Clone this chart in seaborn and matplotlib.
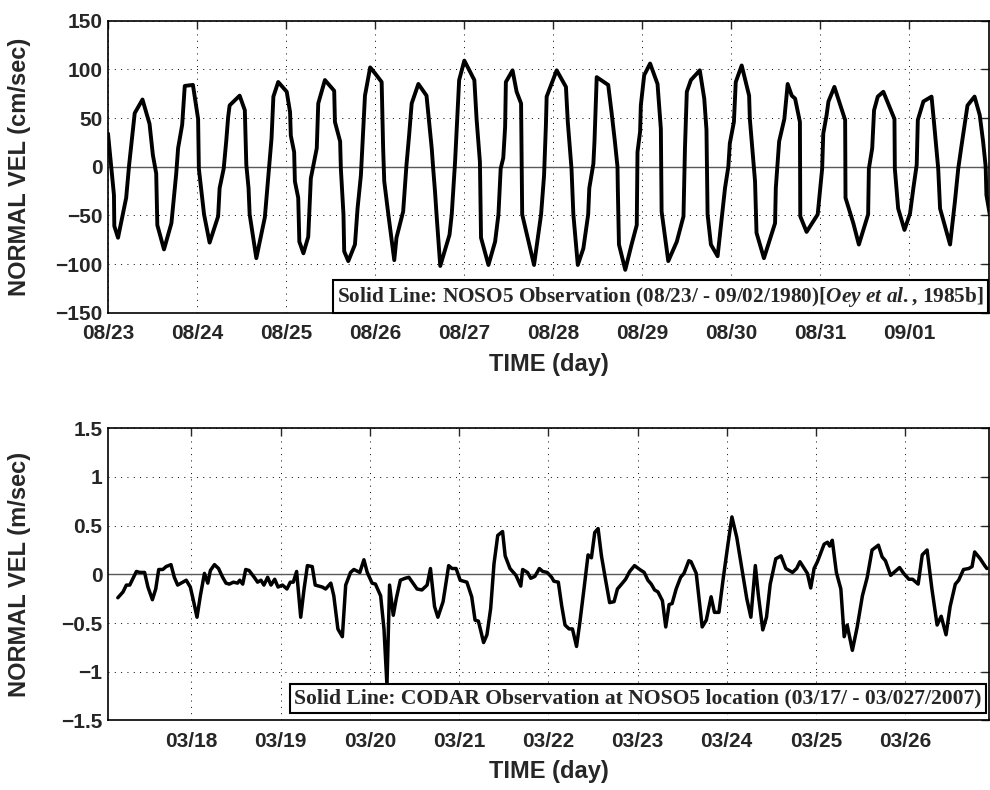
import numpy as np
import pandas as pd
import matplotlib
matplotlib.use("Agg")
import matplotlib.pyplot as plt
import seaborn as sns

# ---- NOSO5 current meter record, 1980 (hours after 08/23 00:00, cm/sec) ----
top_hours = [0.0, 1.6, 1.7, 2.7, 4.9, 5.7, 7.2, 9.3, 11.2, 12.1, 13.0, 13.3, 15.1, 17.1,
             18.4, 18.9, 20.0, 20.7, 22.9, 24.3, 24.5, 25.9, 27.4, 29.7, 30.1, 31.2, 31.9,
             32.4, 32.8, 35.5, 36.9, 37.3, 37.9, 38.2, 40.0, 41.2, 42.3, 43.4, 44.1, 44.6,
             45.9, 48.2, 49.1, 49.3, 50.2, 50.4, 51.3, 51.6, 52.7, 54.0, 54.7, 56.3, 56.7,
             58.5, 61.0, 61.2, 62.6, 62.8, 63.5, 63.7, 64.8, 66.6, 67.3, 68.2, 68.9, 69.3,
             70.7, 72.0, 73.8, 74.2, 74.5, 75.6, 77.2, 77.8, 79.6, 80.5, 81.2, 81.9, 83.7,
             85.9, 86.6, 87.3, 87.7, 88.2, 88.6, 89.6, 92.1, 92.7, 93.6, 94.7, 96.1, 98.8,
             99.4, 100.3, 100.6, 102.6, 104.4, 105.3, 105.9, 106.6, 107.1, 107.3, 109.1,
             110.2, 111.4, 111.7, 114.9, 116.8, 117.6, 118.1, 118.3, 121.0, 123.5, 124.0,
             125.0, 125.5, 126.7, 128.2, 129.5, 129.8, 130.9, 131.2, 131.8, 134.9, 135.8,
             136.7, 137.4, 137.5, 137.8, 139.5, 141.2, 142.6, 142.8, 143.5, 143.7, 144.6,
             146.2, 148.2, 149.1, 149.3, 151.1, 153.4, 155.2, 155.6, 156.1, 157.2, 159.6,
             160.8, 161.4, 161.7, 162.6, 164.4, 166.4, 167.3, 167.7, 168.8, 169.3, 170.9,
             172.9, 173.1, 174.5, 174.9, 176.9, 179.9, 180.1, 181.0, 182.4, 183.3, 184.4,
             185.3, 186.6, 186.7, 188.4, 191.4, 192.6, 192.9, 193.8, 194.3, 195.9, 198.8,
             198.9, 201.0, 202.5, 205.0, 205.2, 206.1, 206.6, 207.6, 209.1, 212.1, 212.2,
             213.1, 214.8, 216.3, 217.2, 218.1, 218.4, 219.9, 222.1, 222.8, 223.9, 224.4,
             227.1, 228.4, 229.3, 230.2, 231.8, 233.7, 235.1, 236.0, 236.7, 236.9, 237.8]
top_vel = [34, -29, -61, -73, -32, 2, 55, 69, 44, 12, -7, -60, -85, -58,
           -7, 19, 43, 83, 84, 49, -2, -49, -78, -51, -22, -2, 27,
           51, 63, 73, 58, 2, -22, -49, -94, -72, -52, -2, 29, 72,
           87, 77, 56, 32, 15, -15, -32, -77, -89, -72, -12, 19, 65,
           89, 78, 46, 26, -2, -49, -87, -97, -80, -43, -9, 43, 73,
           102, 96, 87, 19, -15, -49, -96, -73, -46, 2, 32, 65, 85,
           73, 46, 19, -2, -26, -49, -102, -70, -49, 5, 89, 109, 89,
           49, 5, -73, -101, -77, -49, -2, 9, 41, 87, 99,
           77, 65, -49, -101, -49, -9, 43, 72, 99, 82, 46,
           -2, -49, -101, -84, -49, -22, 3, 26, 92, 84, 56,
           26, 0, -24, -80, -106, -80, -60, 15, 36, 63, 94,
           106, 85, 39, -46, -97, -77, -51, 19, 77, 89, 99,
           70, 38, -49, -80, -92, -22, 0, 24, 46, 87, 104,
           73, 49, -15, -68, -94, -58, -22, 26, 49, 85, 73,
           70, 46, -51, -67, -49, -2, 34, 53, 67, 82, 48,
           -32, -58, -80, -49, -2, 19, 58, 72, 77, 49, -2,
           -43, -65, -48, -22, 2, 48, 67, 72, 44, -2, -43,
           -80, -36, -2, 22, 63, 72, 53, 26, 0, -29, -49]

# ---- CODAR record at NOSO5, 2007 (hours after 03/17 00:00, m/sec) ----
bot_hours = [4.2, 5.6, 6.5, 7.4, 9.2, 10.1, 11.4, 12.3, 13.5, 14.4, 15.2, 16.3, 17.2, 18.5,
             19.4, 20.3, 21.7, 22.6, 23.7, 24.6, 25.5, 26.4, 27.5, 28.4, 29.1, 30.2, 31.3,
             32.4, 33.3, 34.2, 35.3, 36.4, 37.0, 37.8, 38.6, 39.5, 40.9, 41.8, 42.7, 43.5,
             44.5, 45.4, 46.4, 47.3, 48.5, 49.7, 50.6, 51.4, 52.3, 53.4, 54.3, 55.2, 56.5,
             57.3, 59.2, 60.1, 61.5, 62.3, 63.4, 64.6, 65.5, 66.8, 67.7, 69.3, 70.4, 71.3,
             72.6, 73.5, 74.9, 75.8, 76.6, 77.3, 78.3, 79.1, 80.2, 81.5, 82.5, 83.8, 84.7,
             86.0, 87.4, 88.3, 89.4, 90.3, 91.7, 93.2, 94.1, 95.2, 96.3, 98.1, 99.4, 100.3,
             101.2, 102.6, 103.5, 104.5, 105.4, 106.4, 107.7, 108.4, 109.7, 111.3, 112.6,
             113.1, 114.4, 115.3, 116.4, 117.6, 118.5, 119.7, 120.9, 121.5, 122.7, 123.6,
             124.5, 125.6, 126.5, 127.6, 128.5, 129.6, 130.7, 131.6, 132.5, 133.4, 134.3,
             135.2, 136.5, 137.7, 138.6, 139.5, 140.8, 141.9, 143.2, 144.6, 145.8, 146.8,
             147.7, 148.6, 149.5, 150.7, 151.6, 152.5, 153.3, 154.4, 155.6, 156.5, 157.8,
             158.4, 159.8, 161.4, 162.5, 163.8, 164.7, 165.9, 167.1, 168.3, 169.4, 170.7,
             172.3, 173.4, 174.5, 175.7, 176.5, 177.7, 178.7, 179.7, 181.2, 182.6, 183.9,
             185.7, 186.8, 187.7, 189.7, 190.6, 191.5, 192.4, 194.2, 195.1, 195.7, 196.4,
             197.5, 198.7, 199.6, 200.4, 201.8, 203.1, 204.5, 205.8, 207.1, 208.8, 209.8,
             210.7, 212.1, 214.5, 215.6, 217.0, 218.0, 219.5, 220.6, 221.9, 223.2, 224.6,
             225.7, 227.0, 228.1, 229.5, 230.4, 231.7, 233.1, 234.0, 234.7, 236.2, 237.4,
             238.0]
bot_vel = [-0.24, -0.18, -0.11, -0.11, 0.03, 0.02, 0.02, -0.13, -0.26, -0.15, 0.05, 0.05, 0.08, 0.10,
           -0.03, -0.11, -0.08, -0.06, -0.13, -0.28, -0.44, -0.22, 0.01, -0.09, 0.04, 0.10, 0.06,
           -0.03, -0.09, -0.10, -0.08, -0.09, -0.06, -0.10, 0.05, 0.04, -0.03, -0.08, -0.06, -0.11,
           -0.03, -0.11, -0.05, -0.13, -0.11, -0.15, -0.08, -0.08, 0.03, -0.44, -0.15, 0.09, 0.08,
           -0.11, -0.13, -0.15, -0.09, -0.22, -0.56, -0.64, -0.11, 0.02, 0.05, 0.02, 0.15, 0.02,
           -0.09, -0.10, -0.22, -0.56, -1.14, -0.11, -0.42, -0.25, -0.06, -0.04, -0.03, -0.10, -0.15,
           -0.16, -0.11, 0.06, -0.33, -0.44, -0.28, 0.09, 0.06, 0.06, -0.06, -0.08, -0.23, -0.47,
           -0.48, -0.70, -0.62, -0.35, 0.11, 0.40, 0.44, 0.19, 0.06, -0.01, -0.12,
           0.05, 0.02, -0.04, -0.02, 0.06, 0.03, 0.02, -0.03, -0.07, -0.08, -0.32,
           -0.52, -0.56, -0.56, -0.74, -0.49, -0.15, 0.20, 0.17, 0.43, 0.47, 0.19,
           -0.01, -0.29, -0.28, -0.15, -0.11, -0.05, 0.03, 0.09, 0.05, 0.02, -0.06,
           -0.10, -0.16, -0.18, -0.27, -0.54, -0.31, -0.30, -0.15, -0.03, 0.01, 0.14,
           0.13, 0.01, -0.54, -0.47, -0.23, -0.39, -0.39, -0.03, 0.30, 0.59, 0.38,
           0.01, -0.25, -0.44, 0.09, -0.21, -0.57, -0.44, -0.10, 0.16, 0.19, 0.06,
           0.02, 0.06, 0.13, 0.01, -0.14, 0.06, 0.13, 0.31, 0.33, 0.29, 0.35,
           0.02, -0.15, -0.64, -0.52, -0.78, -0.54, -0.22, -0.03, 0.25, 0.30, 0.18,
           0.14, -0.01, 0.07, 0.01, -0.05, -0.05, -0.10, 0.20, 0.25, -0.15, -0.52,
           -0.43, -0.62, -0.33, -0.10, -0.06, 0.05, 0.06, 0.08, 0.23, 0.16, 0.09,
           0.06]

top_tick_days = [0, 1, 2, 3, 4, 5, 6, 7, 8, 9]
top_tick_labels = ["08/23", "08/24", "08/25", "08/26", "08/27",
                   "08/28", "08/29", "08/30", "08/31", "09/01"]
bot_tick_days = [1, 2, 3, 4, 5, 6, 7, 8, 9]
bot_tick_labels = ["03/18", "03/19", "03/20", "03/21", "03/22",
                   "03/23", "03/24", "03/25", "03/26"]
top_yticks = [-150, -100, -50, 0, 50, 100, 150]
top_ylabels = ["\u2212150", "\u2212100", "\u221250", "0", "50", "100", "150"]
bot_yticks = [-1.5, -1.0, -0.5, 0.0, 0.5, 1.0, 1.5]
bot_ylabels = ["\u22121.5", "\u22121", "\u22120.5", "0", "0.5", "1", "1.5"]

top_note = r"Solid Line: NOSO5 Observation (08/23/ - 09/02/1980)[$Oey\ et\ al.$, 1985b]"
bot_note = "Solid Line: CODAR Observation at NOSO5 location (03/17/ - 03/027/2007)"

sns.set_style("white")
plt.rcParams["font.family"] = ["Liberation Sans", "DejaVu Sans"]
plt.rcParams["font.weight"] = "bold"
plt.rcParams["mathtext.fontset"] = "custom"
plt.rcParams["mathtext.rm"] = "Liberation Serif:bold"
plt.rcParams["mathtext.it"] = "Liberation Serif:italic:bold"

top_df = pd.DataFrame({"day": np.array(top_hours) / 24.0, "vel": top_vel})
bot_df = pd.DataFrame({"day": np.array(bot_hours) / 24.0, "vel": bot_vel})

fig = plt.figure(figsize=(9.9, 7.9), dpi=100)
ax1 = fig.add_axes([0.1091, 0.6042, 0.8899, 0.3696])
ax2 = fig.add_axes([0.1091, 0.0880, 0.8899, 0.3699])


def style_axes(ax, xticks, xlabels, yticks, ylabels, ylabel):
    ax.set_xticks(xticks)
    ax.set_xticklabels(xlabels)
    ax.set_yticks(yticks)
    ax.set_yticklabels(ylabels)
    ax.grid(True, which="major", linestyle=(0, (1, 5.5)), color="k", linewidth=0.7)
    ax.axhline(0, color="0.35", linewidth=1.0, zorder=1.5)
    ax.tick_params(direction="in", length=6, width=1.0, top=True, right=True,
                   labelsize=15)
    ax.tick_params(axis="x", pad=8)
    ax.tick_params(axis="y", pad=4)
    for lab in ax.get_xticklabels() + ax.get_yticklabels():
        lab.set_fontweight("bold")
    for sp in ax.spines.values():
        sp.set_visible(True)
        sp.set_color("k")
        sp.set_linewidth(1.2)
    ax.set_xlabel("TIME (day)", fontsize=17, fontweight="bold", labelpad=7)
    ax.set_ylabel(ylabel, fontsize=17, fontweight="bold")
    ax.yaxis.label.set_verticalalignment("center")
    ax.yaxis.set_label_coords(-0.1, 0.5)


sns.lineplot(data=top_df, x="day", y="vel", ax=ax1, color="k", linewidth=2.8,
             sort=False, estimator=None)
ax1.set_xlim(0, 9.9)
ax1.set_ylim(-150, 150)
style_axes(ax1, top_tick_days, top_tick_labels, top_yticks, top_ylabels,
           "NORMAL VEL (cm/sec)")
ax1.text(0.9943, 0.014, top_note, transform=ax1.transAxes, ha="right", va="bottom",
         family="Liberation Serif", fontsize=15.3, fontweight="bold", zorder=5,
         bbox=dict(boxstyle="square,pad=0.2", fc="white", ec="k", lw=1.5))

sns.lineplot(data=bot_df, x="day", y="vel", ax=ax2, color="k", linewidth=2.5,
             sort=False, estimator=None)
ax2.set_xlim(0.065, 9.94)
ax2.set_ylim(-1.5, 1.5)
style_axes(ax2, bot_tick_days, bot_tick_labels, bot_yticks, bot_ylabels,
           "NORMAL VEL (m/sec)")
ax2.text(0.992, 0.040, bot_note, transform=ax2.transAxes, ha="right", va="bottom",
         family="Liberation Serif", fontsize=15.6, fontweight="bold", zorder=5,
         bbox=dict(boxstyle="square,pad=0.2", fc="white", ec="k", lw=1.5))

fig.savefig("out.png", dpi=100)
